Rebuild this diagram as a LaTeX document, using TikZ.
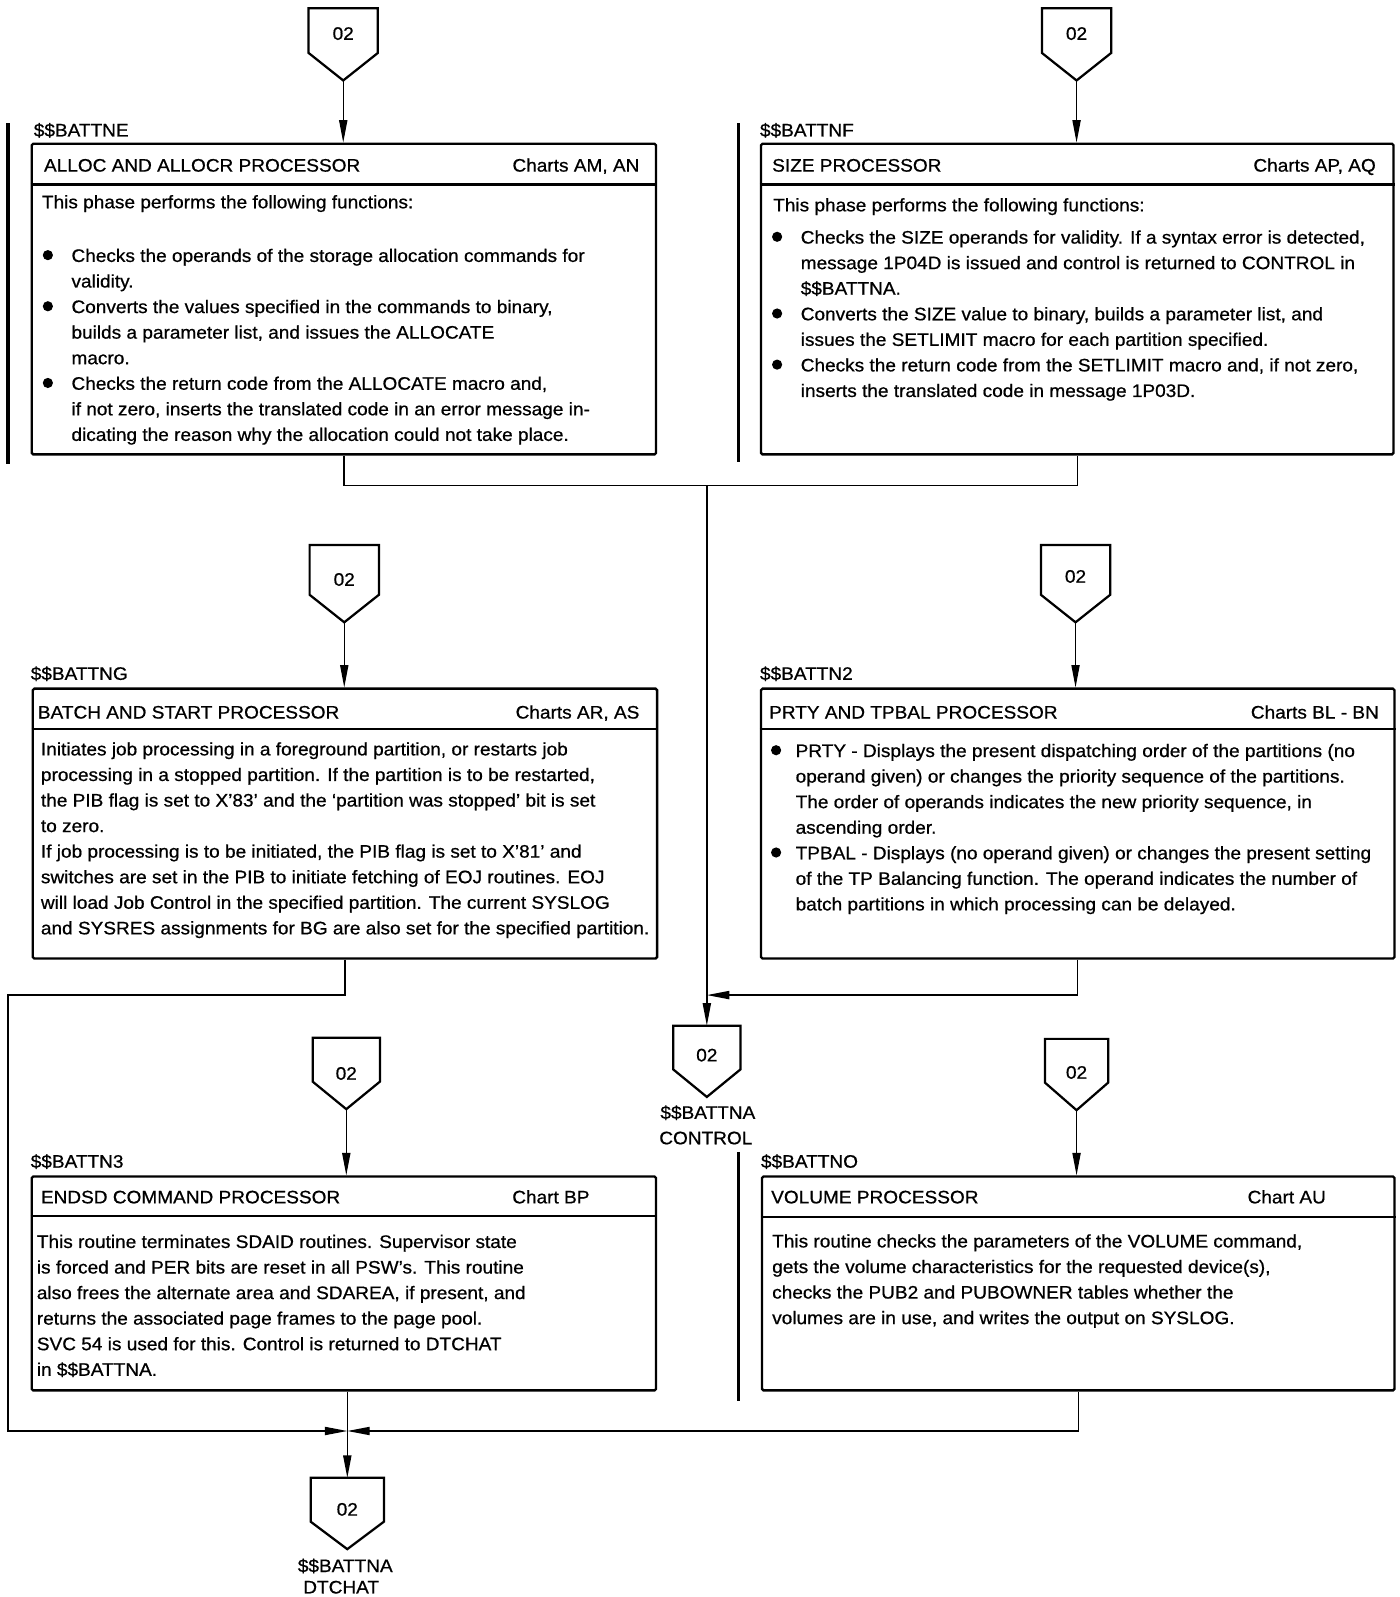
\documentclass[tikz,border=0pt]{standalone}
\usepackage{fontspec}
\setmainfont{Liberation Sans}[FakeStretch=1.05,FakeBold=0.7]
\usetikzlibrary{arrows.meta}

% off-page connector: #1 name, #2 centre x, #3 top y, #4 tip y, #5 half width, #6 y of the label
\newcommand{\offpage}[6]{%
  \draw[conn] (#2-#5,#3) -- (#2+#5,#3) -- (#2+#5,#4-27) -- (#2,#4) -- (#2-#5,#4-27) -- cycle;
  \node[inner sep=0pt] (#1) at (#2,#6) {02};
  \coordinate (#1top) at (#2,#3);
  \coordinate (#1tip) at (#2,#4);
}

\begin{document}
\begin{tikzpicture}[x=1pt,y=-1pt,
  font=\fontsize{17.8}{25.1}\selectfont,
  conn/.style={line width=2.2pt, line join=miter},
  procbox/.style={draw, line width=2.3pt, rounded corners=1.5pt, inner sep=0pt, anchor=north west},
  sepline/.style={line width=2.3pt},
  flow/.style={line width=1.3pt, -{Triangle[length=22pt,width=8pt]}},
  wire/.style={line width=1.3pt},
  bar/.style={line width=3.6pt},
  hd/.style={anchor=base west, inner sep=0pt},
  hr/.style={anchor=base east, inner sep=0pt},
  txt/.style={anchor=north west, inner sep=0pt, align=left},
  ctr/.style={anchor=base, inner sep=0pt},
  dot/.style={fill=black}]

\fill[white] (0,0) rectangle (1374,1568);
\useasboundingbox (0,0) rectangle (1374,1568);

% ---------- off-page connectors ----------
\offpage{p1}{337}{8}{79}{34}{33}
\offpage{p2}{1057}{8}{79}{34}{33}
\offpage{p3}{338}{535}{611}{34}{569}
\offpage{p4}{1056}{535}{611}{34}{566}
\offpage{p5}{340}{1019}{1089}{33}{1054}
\offpage{p6}{1057}{1020}{1090}{31}{1053}
\offpage{p7}{694}{1007}{1077}{33}{1036}
\offpage{p8}{341}{1451}{1521}{36}{1482}

\node[ctr] (p7a) at (695,1098.5) {\$\$BATTNA};
\node[ctr] (p7b) at (693,1123.5) {CONTROL};
\node[ctr] (p8a) at (339,1543.5) {\$\$BATTNA};
\node[ctr] (p8b) at (335,1564.5) {DTCHAT};

% ---------- phase boxes ----------
\node[procbox, minimum width=613pt, minimum height=305pt] (b1) at (30,140) {};
\node[procbox, minimum width=621pt, minimum height=305pt] (b2) at (746,140) {};
\node[procbox, minimum width=613pt, minimum height=265pt] (b3) at (31,675) {};
\node[procbox, minimum width=622pt, minimum height=265pt] (b4) at (746,675) {};
\node[procbox, minimum width=613pt, minimum height=210pt] (b5) at (30,1154) {};
\node[procbox, minimum width=621pt, minimum height=210pt] (b6) at (747,1154) {};

% header separators
\draw[sepline] (b1.west |- 0,181) -- (b1.east |- 0,181);
\draw[sepline] (b2.west |- 0,181) -- (b2.east |- 0,181);
\draw[sepline] (b3.west |- 0,716) -- (b3.east |- 0,716);
\draw[sepline] (b4.west |- 0,716) -- (b4.east |- 0,716);
\draw[sepline] (b5.west |- 0,1194) -- (b5.east |- 0,1194);
\draw[sepline] (b6.west |- 0,1195) -- (b6.east |- 0,1195);

% side bars
\draw[bar] (8,121) -- (8,456);
\draw[bar] (725,121) -- (725,454);
\draw[bar] (725,1131) -- (725,1376);

% ---------- box 1 ----------
\node[hd] (l1) at (33,134) {\$\$BATTNE};
\node[hd] (h1) at (43,168.5) {ALLOC AND ALLOCR PROCESSOR};
\node[hr] (r1) at (628,168.5) {Charts AM, AN};
\node[hd] (i1) at (41,204.5) {This phase performs the following functions:};
\node[txt] (t1) at (70,239.4) {\strut Checks the operands of the storage allocation commands for\\
validity.\\
Converts the values specified in the commands to binary,\\
builds a parameter list, and issues the ALLOCATE\\
macro.\\
Checks the return code from the ALLOCATE macro and,\\
if not zero, inserts the translated code in an error message in-\\
dicating the reason why the allocation could not take place.};
\fill[dot] (47,250.5) circle (5);
\fill[dot] (47,300.7) circle (5);
\fill[dot] (47,376) circle (5);

% ---------- box 2 ----------
\node[hd] (l2) at (746,134) {\$\$BATTNF};
\node[hd] (h2) at (758,168.5) {SIZE PROCESSOR};
\node[hr] (r2) at (1351,168.5) {Charts AP, AQ};
\node[hd] (i2) at (759,207.5) {This phase performs the following functions:};
\node[txt] (t2) at (786,221.4) {\strut Checks the SIZE operands for validity. If a syntax error is detected,\\
message 1P04D is issued and control is returned to CONTROL in\\
\$\$BATTNA.\\
Converts the SIZE value to binary, builds a parameter list, and\\
issues the SETLIMIT macro for each partition specified.\\
Checks the return code from the SETLIMIT macro and, if not zero,\\
inserts the translated code in message 1P03D.};
\fill[dot] (763,232.5) circle (5);
\fill[dot] (763,307.8) circle (5);
\fill[dot] (763,358) circle (5);

% ---------- box 3 ----------
\node[hd] (l3) at (30,667.5) {\$\$BATTNG};
\node[hd] (h3) at (37,705.5) {BATCH AND START PROCESSOR};
\node[hr] (r3) at (628,705.5) {Charts AR, AS};
\node[txt] (t3) at (40,723.9) {\strut Initiates job processing in a foreground partition, or restarts job\\
processing in a stopped partition. If the partition is to be restarted,\\
the PIB flag is set to X’83’ and the ‘partition was stopped’ bit is set\\
to zero.\\
If job processing is to be initiated, the PIB flag is set to X’81’ and\\
switches are set in the PIB to initiate fetching of EOJ routines. EOJ\\
will load Job Control in the specified partition. The current SYSLOG\\
and SYSRES assignments for BG are also set for the specified partition.};

% ---------- box 4 ----------
\node[hd] (l4) at (746,667.5) {\$\$BATTN2};
\node[hd] (h4) at (755,705.5) {PRTY AND TPBAL PROCESSOR};
\node[hr] (r4) at (1354,705.5) {Charts BL - BN};
\node[txt] (t4) at (781,725.5) {\strut PRTY - Displays the present dispatching order of the partitions (no\\
operand given) or changes the priority sequence of the partitions.\\
The order of operands indicates the new priority sequence, in\\
ascending order.\\
TPBAL - Displays (no operand given) or changes the present setting\\
of the TP Balancing function. The operand indicates the number of\\
batch partitions in which processing can be delayed.};
\fill[dot] (762,736.6) circle (5);
\fill[dot] (762,837) circle (5);

% ---------- box 5 ----------
\node[hd] (l5) at (30,1146.5) {\$\$BATTN3};
\node[hd] (h5) at (40,1181.5) {ENDSD COMMAND PROCESSOR};
\node[hr] (r5) at (579,1181.5) {Chart BP};
\node[txt] (t5) at (36,1207.5) {\strut This routine terminates SDAID routines. Supervisor state\\
is forced and PER bits are reset in all PSW’s. This routine\\
also frees the alternate area and SDAREA, if present, and\\
returns the associated page frames to the page pool.\\
SVC 54 is used for this. Control is returned to DTCHAT\\
in \$\$BATTNA.};

% ---------- box 6 ----------
\node[hd] (l6) at (747,1146.5) {\$\$BATTNO};
\node[hd] (h6) at (757,1181.5) {VOLUME PROCESSOR};
\node[hr] (r6) at (1302,1181.5) {Chart AU};
\node[txt] (t6) at (758,1207) {\strut This routine checks the parameters of the VOLUME command,\\
gets the volume characteristics for the requested device(s),\\
checks the PUB2 and PUBOWNER tables whether the\\
volumes are in use, and writes the output on SYSLOG.};

% ---------- flow lines ----------
\coordinate (jtop) at (694,477);
\coordinate (jmid) at (694,977);
\coordinate (lft) at (8,977);
\coordinate (jbot) at (341,1405);

\draw[flow] (p1tip) -- (p1tip |- b1.north);
\draw[flow] (p2tip) -- (p2tip |- b2.north);
\draw[flow] (p3tip) -- (p3tip |- b3.north);
\draw[flow] (p4tip) -- (p4tip |- b4.north);
\draw[flow] (p5tip) -- (p5tip |- b5.north);
\draw[flow] (p6tip) -- (p6tip |- b6.north);

\draw[wire] (b1.south) -- (b1.south |- jtop) -- (b2.south |- jtop) -- (b2.south);
\draw[flow] (jtop) -- (p7top);
\draw[flow] (b4.south) -- (b4.south |- jmid) -- (jmid);
\draw[flow] (b3.south) -- (b3.south |- lft) -- (lft) -- (lft |- jbot) -- (jbot);
\draw[flow] (b6.south) -- (b6.south |- jbot) -- (jbot);
\draw[flow] (p8top |- b5.south) -- (p8top);

\end{tikzpicture}
\end{document}
